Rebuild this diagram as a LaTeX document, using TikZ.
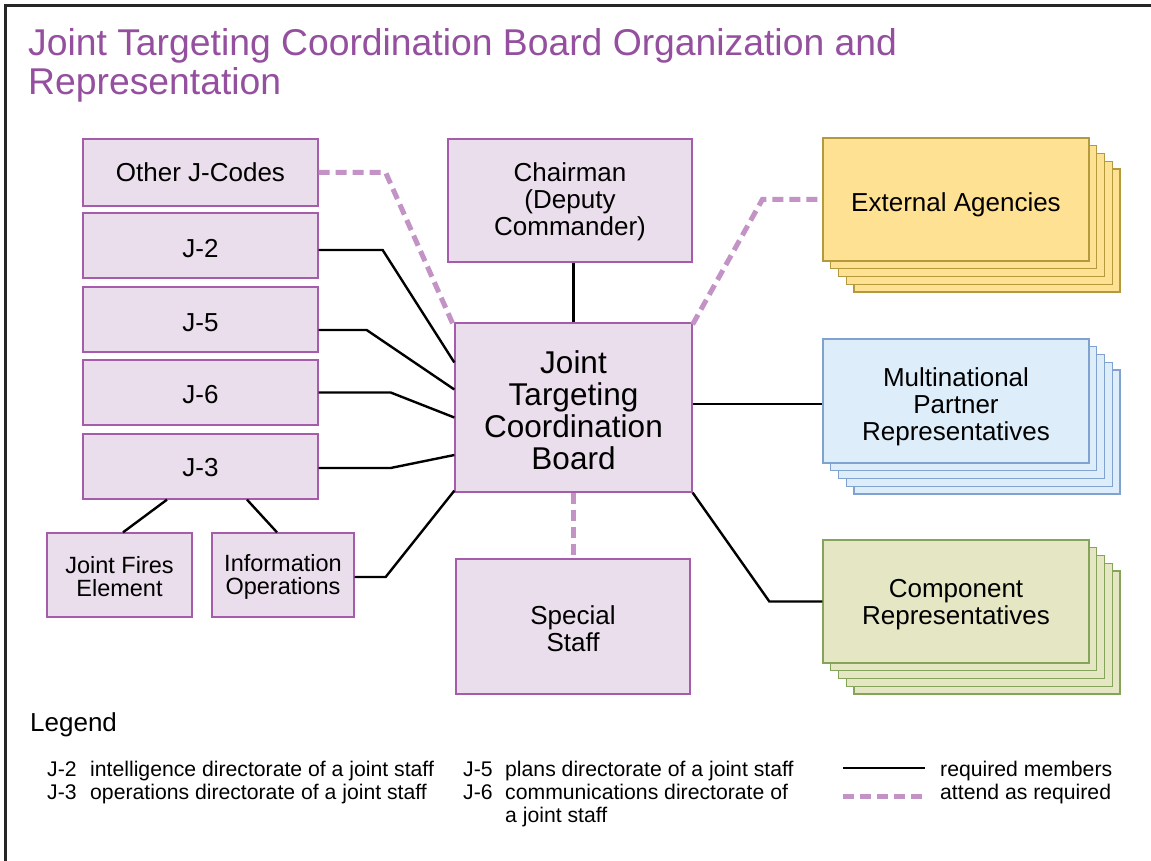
\documentclass[tikz,border=0pt]{standalone}
\usepackage{fontspec}
\setmainfont{Liberation Sans}
\usetikzlibrary{calc}
\definecolor{titlec}{HTML}{954F9F}
\definecolor{pfill}{HTML}{EADDEC}
\definecolor{pdraw}{HTML}{A55CAB}
\definecolor{dashc}{HTML}{C293C4}
\definecolor{yfill}{HTML}{FFE193}
\definecolor{ydraw}{HTML}{B39A3C}
\definecolor{bfill}{HTML}{DDEEFA}
\definecolor{bdraw}{HTML}{7FA2CF}
\definecolor{gfill}{HTML}{E4E6C4}
\definecolor{gdraw}{HTML}{86A35A}
\newcommand{\lo}[2]{\raisebox{-#1}[\height][\depth]{#2}}
\tikzset{
  titlestyle/.style={inner sep=0pt, text=titlec, font=\fontsize{37.3}{39}\selectfont},
  pbox/.style={draw=pdraw, fill=pfill, line width=1.3pt, inner sep=0pt, align=center, font=\fontsize{26}{27}\selectfont},
  smallbox/.style={pbox, font=\fontsize{23.5}{23}\selectfont},
  bigbox/.style={pbox, font=\fontsize{31.5}{32}\selectfont},
  ybox/.style={draw=ydraw, fill=yfill, line width=1.3pt, inner sep=0pt, align=center, font=\fontsize{26}{27}\selectfont},
  bbox/.style={ybox, draw=bdraw, fill=bfill},
  gbox/.style={ybox, draw=gdraw, fill=gfill},
  req/.style={line width=2.4pt, black},
  opt/.style={line width=5pt, dashc, dash pattern=on 11pt off 6pt},
  legtext/.style={inner sep=0pt, anchor=base west, font=\fontsize{21.2}{23}\selectfont},
}
\begin{document}
\begin{tikzpicture}[x=1pt,y=-1pt]
\useasboundingbox (0,0) rectangle (1151,861);
\fill[white] (0,0) rectangle (1151,861);
\draw[line width=2.7pt, black!85] (5.3,861) -- (5.3,5.3) -- (1151,5.3);

% title
\node[titlestyle, anchor=base west] (t1) at (28,56) {Joint Targeting Coordination Board Organization and};
\node[titlestyle, anchor=base west] (t2) at (28,95) {Representation};

% left column
\node[pbox, minimum width=235pt, minimum height=67pt] (oth) at (200.5,172.5) {Other J-Codes};
\node[pbox, minimum width=235pt, minimum height=65pt] (j2) at (200.5,245.5) {\lo{3pt}{J-2}};
\node[pbox, minimum width=235pt, minimum height=65pt] (j5) at (200.5,319.5) {\lo{3pt}{J-5}};
\node[pbox, minimum width=235pt, minimum height=65pt] (j6) at (200.5,392.5) {\lo{2pt}{J-6}};
\node[pbox, minimum width=235pt, minimum height=65pt] (j3) at (200.5,466.5) {\lo{1.5pt}{J-3}};
\node[smallbox, minimum width=145pt, minimum height=84pt] (jfe) at (119.5,575) {\lo{1.5pt}{Joint Fires}\\\lo{1.5pt}{Element}};
\node[smallbox, minimum width=142pt, minimum height=84pt] (io) at (283,575) {\lo{1.5pt}{Information}\\\lo{1.5pt}{Operations}};

% center column
\node[pbox, minimum width=244pt, minimum height=123pt] (chair) at (570,200.5) {\lo{1.5pt}{Chairman}\\\lo{1.5pt}{(Deputy}\\\lo{1.5pt}{Commander)}};
\node[bigbox, minimum width=237pt, minimum height=169pt] (jtcb) at (573.5,407.5) {\lo{2.5pt}{Joint}\\\lo{2.5pt}{Targeting}\\\lo{2.5pt}{Coordination}\\\lo{2.5pt}{Board}};
\node[pbox, minimum width=234pt, minimum height=135pt] (spec) at (573,626.5) {\lo{2pt}{Special}\\\lo{2pt}{Staff}};

% right column (stacks)
\foreach \k in {4,3,2,1}{
  \draw[ybox] ({823+\k*7.75},{138+\k*7.75}) rectangle ++(266,123);
  \draw[bbox] ({823+\k*7.75},{339+\k*7.75}) rectangle ++(266,124);
  \draw[gbox] ({823+\k*7.75},{540+\k*7.75}) rectangle ++(266,123);
}
\node[ybox, minimum width=266pt, minimum height=123pt] (ext) at (956,199.5) {\lo{5.5pt}{External Agencies}};
\node[bbox, minimum width=266pt, minimum height=124pt] (mult) at (956,401) {\lo{5.5pt}{Multinational}\\\lo{5.5pt}{Partner}\\\lo{5.5pt}{Representatives}};
\node[gbox, minimum width=266pt, minimum height=123pt] (comp) at (956,601.5) {\lo{3pt}{Component}\\\lo{3pt}{Representatives}};

% connectors
\draw[opt] (oth.east) -- ++(67,0) -- ([yshift=-5pt]jtcb.north west);
\draw[req] ([yshift=-4.5pt]j2.east) -- ++(64,0) -- ([yshift=45pt]jtcb.west);
\draw[req] ([yshift=-10.5pt]j5.east) -- ++(48,0) -- ([yshift=18pt]jtcb.west);
\draw[req] (j6.east) -- ++(72,0) -- ([yshift=-10pt]jtcb.west);
\draw[req] ([yshift=-1.5pt]j3.east) -- ++(72,0) -- ([yshift=-47.5pt]jtcb.west);
\draw[req] ([yshift=-2pt]io.east) -- ++(31,0) -- ([yshift=2pt]jtcb.south west);
\draw[req] ([xshift=-33.5pt]j3.south) -- ([xshift=3.5pt]jfe.north);
\draw[req] ([xshift=46.5pt]j3.south) -- ([xshift=-6pt]io.north);
\draw[req] (jtcb.north) -- (jtcb.north |- chair.south);
\draw[opt] (jtcb.south) -- (jtcb.south |- spec.north);
\draw[opt] ([yshift=-2pt]jtcb.north east) -- ([xshift=-60pt]ext.west) -- (ext.west);
\draw[req] (jtcb.east |- 0,404) -- (mult.west |- 0,404);
\draw[req] (jtcb.south east) -- ([xshift=-53pt]comp.west) -- (comp.west);

% legend
\node[inner sep=0pt, anchor=base west, font=\fontsize{26}{28}\selectfont] (leg) at (30,731) {Legend};
\node[legtext] (l2a) at (47,776) {J-2};
\node[legtext] (l2b) at (90,776) {intelligence directorate of a joint staff};
\node[legtext] (l3a) at (47,799) {J-3};
\node[legtext] (l3b) at (90,799) {operations directorate of a joint staff};
\node[legtext] (l5a) at (463,776) {J-5};
\node[legtext] (l5b) at (505,776) {plans directorate of a joint staff};
\node[legtext] (l6a) at (463,799) {J-6};
\node[legtext] (l6b) at (505,799) {communications directorate of};
\node[legtext] (l6c) at (505,822) {a joint staff};
\coordinate (ls1) at (843,768);
\coordinate (ls2) at (925,768);
\coordinate (ld1) at (843,796);
\coordinate (ld2) at (925,796);
\draw[req] (ls1) -- (ls2);
\draw[opt] (ld1) -- (ld2);
\node[legtext] (lreq) at (940,776) {required members};
\node[legtext] (lopt) at (940,799) {attend as required};
\end{tikzpicture}
\end{document}
